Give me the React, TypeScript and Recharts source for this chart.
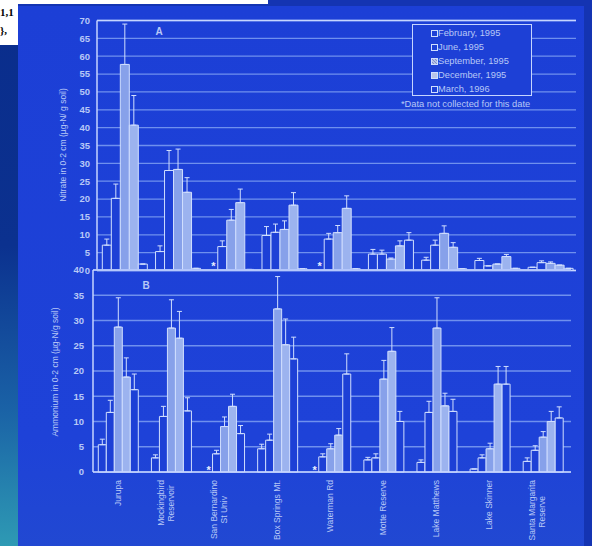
import React from 'react';
import { BarChart, Bar, XAxis, YAxis, CartesianGrid, ErrorBar, LabelList, ReferenceLine, Legend } from 'recharts';

const sites = ['Jurupa', 'Mockingbird Reservoir', 'San Bernardino St Univ', 'Box Springs Mt.', 'Waterman Rd', 'Motte Reserve', 'Lake Matthews', 'Lake Skinner', 'Santa Margarita Reserve'];
const siteLabelLines = [['Jurupa'], ['Mockingbird', 'Reservoir'], ['San Bernardino', 'St Univ'], ['Box Springs Mt.'], ['Waterman Rd'], ['Motte Reserve'], ['Lake Matthews'], ['Lake Skinner'], ['Santa Margarita', 'Reserve']];

const seriesKeys = ['feb', 'jun', 'sep', 'dec', 'mar'];
const seriesNames = ['February, 1995', 'June, 1995', 'September, 1995', 'December, 1995', 'March, 1996'];
const missingNote = '*Data not collected for this date';
const cornerText = ['1,1', '},'];

// Panel A: Nitrate in 0-2 cm (µg-N/ g soil)
const nitrateFeb = [7.1, 5.3, 0, 9.8, 0, 4.6, 2.9, 2.8, 0.9];
const nitrateJun = [20.2, 28.0, 6.7, 10.7, 8.8, 4.6, 7.1, 1.3, 2.2];
const nitrateSep = [57.7, 28.3, 14.1, 11.5, 10.6, 3.2, 10.4, 1.8, 2.0];
const nitrateDec = [40.7, 21.9, 19.0, 18.3, 17.4, 6.9, 6.5, 3.9, 1.5];
const nitrateMar = [1.8, 0.6, 0.3, 0.5, 0.5, 8.5, 0.5, 0.6, 0.6];
const nitrateFebErr = [1.7, 1.6, 0, 2.5, 0, 1.3, 0.8, 0.6, 0];
const nitrateJunErr = [4.0, 5.6, 1.6, 2.3, 1.6, 1.1, 1.4, 0, 0.5];
const nitrateSepErr = [11.3, 5.7, 3.0, 2.4, 2.0, 0.3, 2.1, 0, 0.4];
const nitrateDecErr = [8.3, 4.1, 3.8, 3.5, 3.5, 1.4, 1.3, 0.6, 0];
const nitrateMarErr = [0, 0, 0, 0, 0, 2.1, 0, 0, 0];
const nitrateFebMissing = [false, false, true, false, true, false, false, false, false];
const nitrateTicks = [0, 5, 10, 15, 20, 25, 30, 35, 40, 45, 50, 55, 60, 65, 70];

// Panel B: Ammonium in 0-2 cm (µg-N/g soil)
const ammoniumFeb = [5.4, 2.8, 0, 4.6, 0, 2.4, 1.9, 0.6, 2.1];
const ammoniumJun = [11.8, 11.0, 3.6, 6.3, 3.0, 2.8, 11.8, 2.8, 4.3];
const ammoniumSep = [28.7, 28.5, 9.0, 32.3, 4.6, 18.4, 28.5, 4.6, 6.9];
const ammoniumDec = [18.8, 26.5, 13.0, 25.2, 7.3, 23.9, 13.1, 17.4, 10.0];
const ammoniumMar = [16.3, 12.1, 7.6, 22.4, 19.4, 10.0, 12.0, 17.4, 10.7];
const ammoniumFebErr = [1.1, 0.6, 0, 0.9, 0, 0.5, 0.5, 0, 0.7];
const ammoniumJunErr = [2.4, 2.0, 0.7, 1.2, 0.6, 0.8, 2.2, 0.6, 0.9];
const ammoniumSepErr = [5.8, 5.6, 1.9, 6.4, 1.0, 3.7, 6.0, 1.1, 1.1];
const ammoniumDecErr = [3.8, 5.3, 2.4, 5.1, 1.3, 4.7, 2.5, 3.5, 2.0];
const ammoniumMarErr = [3.1, 2.6, 1.6, 4.3, 4.0, 2.0, 2.4, 3.5, 2.2];
const ammoniumFebMissing = [false, false, true, false, true, false, false, false, false];
const ammoniumTicks = [0, 5, 10, 15, 20, 25, 30, 35, 40];

const BG = '#1d40d6';
const FRAME = '#c6d5ff';
const GRID = '#6f90ee';
const TEXT = '#b8c8f6';
const BAR_STROKE = '#d0defe';
const FONT = '"Liberation Sans", Arial, sans-serif';
const seriesFill: Record<string, string> = { feb: BG, jun: BG, sep: '#87a1ea', dec: '#9cb3ef', mar: BG };

function buildRows(values: number[][], errors: number[][], missing: boolean[]) {
  return sites.map((site, i) => {
    const row: Record<string, any> = { site, mark: missing[i] ? '*' : '' };
    seriesKeys.forEach((k, j) => {
      row[k] = values[j][i];
      row[k + 'Err'] = [0, errors[j][i]];
    });
    return row;
  });
}

const nitrateRows = buildRows(
  [nitrateFeb, nitrateJun, nitrateSep, nitrateDec, nitrateMar],
  [nitrateFebErr, nitrateJunErr, nitrateSepErr, nitrateDecErr, nitrateMarErr],
  nitrateFebMissing
);
const ammoniumRows = buildRows(
  [ammoniumFeb, ammoniumJun, ammoniumSep, ammoniumDec, ammoniumMar],
  [ammoniumFebErr, ammoniumJunErr, ammoniumSepErr, ammoniumDecErr, ammoniumMarErr],
  ammoniumFebMissing
);

const SiteTick = (props: any) => {
  const { x, y, payload } = props;
  const idx = sites.indexOf(payload.value);
  const lines = siteLabelLines[idx] || [String(payload.value)];
  const n = lines.length;
  const est = lines[0].length * 8.5 * 0.5;
  return (
    <g transform={`translate(${x},${y})`}>
      {lines.map((ln, i) => {
        const dx = -2 + (i - (n - 1)) * 10;
        const first = i === 0;
        return (
          <text key={i} transform="rotate(-90)" x={first ? -8 : -(8 + est / 2)} y={dx + 3}
            textAnchor={first ? 'end' : 'middle'} fontSize={8.5} fill={TEXT} fontFamily={FONT}>
            {ln}
          </text>
        );
      })}
    </g>
  );
};

// Draws the "*" (data not collected) in the February slot, just left of the June bar.
const makeMissingMark = (lift: number) => (p: any) => {
  const vb = p.viewBox || p;
  if (!p.value || vb == null || vb.x == null) return null;
  const cx = vb.x - vb.width / 2;
  const base = vb.y + vb.height;
  return (
    <text x={cx} y={base + 4 - lift} textAnchor="middle" fontSize={11} fontWeight="bold" fill="#e8efff" fontFamily={FONT}>*</text>
  );
};

const LegendBox = () => (
  <div style={{ position: 'relative', width: 120, height: 72, boxSizing: 'border-box', border: `1.5px solid ${FRAME}`, background: BG, fontFamily: FONT }}>
    {seriesNames.map((name, i) => {
      const key = seriesKeys[i];
      const sym: React.CSSProperties = { position: 'absolute', left: 18, top: 5 + i * 14, width: 5, height: 5, border: `1px solid ${BAR_STROKE}` };
      if (key === 'sep') sym.background = 'repeating-linear-gradient(45deg,#b7c2e6 0 1px,#7d8fcf 1px 2px)';
      if (key === 'dec') sym.background = '#b8c4e8';
      return (
        <div key={name}>
          <div style={sym} />
          <div style={{ position: 'absolute', left: 25, top: 2 + i * 14, fontSize: 9.3, color: TEXT, whiteSpace: 'nowrap', lineHeight: '12px' }}>{name}</div>
        </div>
      );
    })}
    <div style={{ position: 'absolute', left: -12, top: 73, fontSize: 9.3, color: TEXT, whiteSpace: 'nowrap', lineHeight: '12px' }}>{missingNote}</div>
  </div>
);

function SeriesBars(lift: number) {
  return seriesKeys.map((k) => (
    <Bar key={k} dataKey={k} name={k} fill={seriesFill[k]} stroke={BAR_STROKE} strokeWidth={1} isAnimationActive={false}>
      <ErrorBar dataKey={k + 'Err'} width={2.5} stroke={BAR_STROKE} strokeWidth={1} direction="y" />
      {k === 'jun' ? <LabelList dataKey="mark" content={makeMissingMark(lift)} /> : null}
    </Bar>
  ));
}

export default function App() {
  return (
    <div style={{ position: 'fixed', left: 0, top: 0, width: 592, height: 546, overflow: 'hidden', background: '#1434b2' }}>
      <div style={{ position: 'absolute', left: 0, top: 0, width: 18, height: 546, background: 'linear-gradient(180deg,#0a2d8c 0%,#0b318f 45%,#1a62a6 75%,#2e9ab4 100%)' }} />
      <div style={{ position: 'absolute', left: 18, top: 6, width: 566, height: 540, background: 'linear-gradient(180deg,#1c3fd6 0%,#1e42d8 80%,#2148d2 100%)' }} />
      <div style={{ position: 'absolute', left: 0, top: 0, width: 268, height: 4, background: '#ffffff' }} />
      <div style={{ position: 'absolute', left: 0, top: 0, width: 18, height: 45, background: '#ffffff', overflow: 'hidden' }}>
        <div style={{ position: 'absolute', left: 0, top: 3, fontFamily: '"Liberation Serif", serif', fontWeight: 'bold', fontSize: 11, color: '#000', lineHeight: '18px', whiteSpace: 'nowrap' }}>
          {cornerText[0]}<br />{cornerText[1]}
        </div>
      </div>

      <div style={{ position: 'absolute', left: 0, top: 0 }}>
        <BarChart width={592} height={280} data={nitrateRows} margin={{ top: 20.5, right: 16, bottom: 8.5, left: 61 }} barGap={0} barCategoryGap="10%">
          <CartesianGrid vertical={false} stroke={GRID} strokeWidth={1.3} />
          <XAxis dataKey="site" tick={false} tickLine={false} height={1} axisLine={{ stroke: FRAME, strokeWidth: 1.5 }} padding={{ left: 0, right: 0 }} />
          <YAxis domain={[0, 70]} ticks={nitrateTicks} interval={0} width={36} tickSize={0} tickMargin={7} axisLine={{ stroke: FRAME, strokeWidth: 1.5 }} tickLine={false}
            tick={{ fill: TEXT, fontSize: 9.5, fontWeight: 'bold', fontFamily: FONT }} />
          <YAxis yAxisId="r" orientation="right" domain={[0, 70]} width={0} tick={false} tickLine={false} axisLine={{ stroke: FRAME, strokeWidth: 1.5 }} />
          <ReferenceLine y={70} stroke={FRAME} strokeWidth={1.5} />
          <Legend layout="vertical" align="center" verticalAlign="middle" content={() => <LegendBox />} wrapperStyle={{ left: 412, top: 24, width: 120, height: 72 }} />
          {SeriesBars(5)}
        </BarChart>
      </div>

      <div style={{ position: 'absolute', left: 0, top: 262 }}>
        <BarChart width={592} height={284} data={ammoniumRows} margin={{ top: 8, right: 21, bottom: 4, left: 57 }} barGap={0} barCategoryGap="10%">
          <CartesianGrid vertical={false} stroke={GRID} strokeWidth={1.3} />
          <XAxis dataKey="site" interval={0} tickLine={false} tickSize={0} tickMargin={0} height={70} axisLine={{ stroke: FRAME, strokeWidth: 1.5 }} tick={<SiteTick />} padding={{ left: 0, right: 0 }} />
          <YAxis domain={[0, 40]} ticks={ammoniumTicks} interval={0} width={36} tickSize={0} tickMargin={9} axisLine={{ stroke: FRAME, strokeWidth: 1.5 }} tickLine={false}
            tick={{ fill: TEXT, fontSize: 9.5, fontWeight: 'bold', fontFamily: FONT }} />
          <YAxis yAxisId="r" orientation="right" domain={[0, 40]} width={0} tick={false} tickLine={false} axisLine={{ stroke: FRAME, strokeWidth: 1.5 }} />
          <ReferenceLine y={40} stroke={FRAME} strokeWidth={1.5} />
          {SeriesBars(2)}
        </BarChart>
      </div>

      <svg width={592} height={546} style={{ position: 'absolute', left: 0, top: 0, pointerEvents: 'none' }}>
        <text transform="translate(66,145) rotate(-90)" textAnchor="middle" fontSize={8.5} fill={TEXT} fontFamily={FONT}>Nitrate in 0-2 cm (µg-N/ g soil)</text>
        <text transform="translate(58,372) rotate(-90)" textAnchor="middle" fontSize={8.5} fill={TEXT} fontFamily={FONT}>Ammonium in 0-2 cm (µg-N/g soil)</text>
        <text x={159} y={35} textAnchor="middle" fontSize={10} fontWeight="bold" fill={TEXT} fontFamily={FONT}>A</text>
        <text x={146} y={289} textAnchor="middle" fontSize={10} fontWeight="bold" fill={TEXT} fontFamily={FONT}>B</text>
      </svg>
    </div>
  );
}
